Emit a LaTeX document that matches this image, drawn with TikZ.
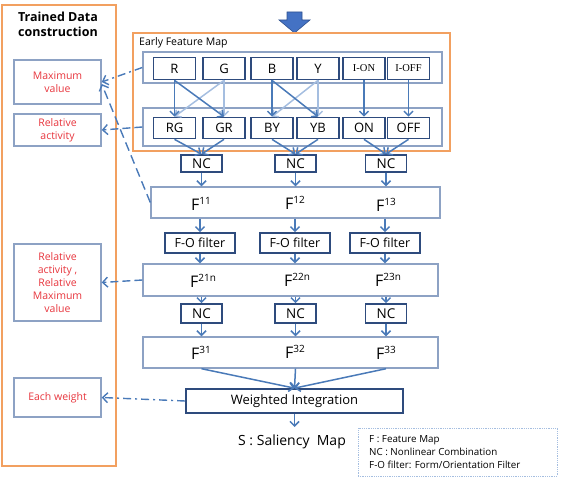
\documentclass[tikz,border=0pt]{standalone}
\usepackage{fontspec}
\setmainfont{Open Sans}
\newfontfamily\serifx{Liberation Serif}
\usetikzlibrary{arrows.meta,calc}
\definecolor{orng}{HTML}{F2A060}
\definecolor{contc}{HTML}{8DA2C4}
\definecolor{navy}{HTML}{2E4B7D}
\definecolor{arrc}{HTML}{4A7AB8}
\definecolor{lite}{HTML}{A5BEE0}
\definecolor{redt}{HTML}{E8363E}
\definecolor{blk}{HTML}{4472C4}
\definecolor{blkd}{HTML}{2F528F}
\newcommand{\fsz}[2]{\fontsize{#1}{#2}\selectfont}
\newcommand{\Fsup}[1]{{\fsz{16}{18}F}\raisebox{5.5pt}{\fsz{10}{12}#1}}
\begin{document}
\begin{tikzpicture}[x=1pt,y=-1pt,
  cont/.style={draw=contc, line width=1.4pt, fill=white, inner sep=0pt},
  ibox/.style={draw=navy, line width=1.7pt, fill=white, inner sep=0pt, font=\fsz{13}{15}},
  lbox/.style={draw=contc, line width=1.4pt, fill=white, inner sep=0pt, text=redt, align=center, font=\fsz{10.5}{13}, minimum width=87pt},
  arr/.style={draw=arrc, line width=1.5pt, -{Straight Barb[length=4.5pt,width=9pt]}},
  larr/.style={arr, draw=lite},
  dlink/.style={draw=arrc, line width=1.4pt, -{Straight Barb[length=5pt,width=10pt]}},
  flab/.style={inner sep=0pt, anchor=center}
]
\useasboundingbox (0,0) rectangle (572,478);
% left trained data panel
\node[draw=orng, line width=2pt, minimum width=114pt, minimum height=461pt, inner sep=0pt] (tdc) at (59,235.5) {};
\node[align=center, font=\bfseries\fsz{12.5}{15}, inner sep=0pt] (tdct) at (58,24.5) {Trained Data\\construction};
\node[lbox, minimum height=44pt] (maxv) at (57.5,82) {Maximum\\value};
\node[lbox, minimum height=32pt] (relact) at (57.5,130) {Relative\\activity};
\node[lbox, minimum height=77pt] (rarmv) at (57.5,282.5) {Relative\\activity ,\\Relative\\Maximum\\value};
\node[lbox, minimum height=39pt] (eachw) at (57.5,397.5) {Each weight};
% block arrow
\fill[blk, draw=blkd, line width=0.6pt] (287,12) -- (302,12) -- (302,20) -- (310,20) -- (294.5,33) -- (279,20) -- (287,20) -- cycle;
% early feature map
\node[draw=orng, line width=1.8pt, minimum width=317pt, minimum height=118pt, inner sep=0pt] (efm) at (291.5,92) {};
\node[anchor=west, inner sep=0pt, font=\fsz{10.5}{12}] (efmt) at (139,43) {Early Feature Map};
\node[cont, minimum width=299pt, minimum height=31pt] (row1) at (292.5,67.5) {};
\node[cont, minimum width=299pt, minimum height=38pt] (row2) at (292.5,127) {};
\foreach \n/\x/\t in {R/174.5/R, G/224/G, B/272/B, Y/318/Y}{
  \node[ibox, minimum width=42pt, minimum height=22pt] (\n) at (\x,68.5) {\t};
}
\node[ibox, minimum width=42pt, minimum height=22pt, font=\serifx\fsz{10.5}{12}] (ION) at (364,68.5) {I-ON};
\node[ibox, minimum width=42pt, minimum height=22pt, font=\serifx\fsz{10.5}{12}] (IOFF) at (408.5,68.5) {I-OFF};
\foreach \n/\x/\t in {RG/174.5/RG, GR/224/GR, BY/272/BY, YB/318/YB, ON/364/ON, OFF/408.5/OFF}{
  \node[ibox, minimum width=42pt, minimum height=21pt] (\n) at (\x,128) {\t};
}
% arrows between rows
\draw[larr] (G.south) -- (RG.north);
\draw[larr] (G.south) -- (GR.north);
\draw[larr] (Y.south) -- (BY.north);
\draw[larr] (Y.south) -- (YB.north);
\draw[arr] (R.south) -- (RG.north);
\draw[arr] (R.south) -- (GR.north);
\draw[arr] (B.south) -- (BY.north);
\draw[arr] (B.south) -- (YB.north);
\draw[arr] (ION.south) -- (ON.north);
\draw[arr] (IOFF.south) -- (OFF.north);
% NC row 1
\foreach \n/\x in {NCa/201.5, NCb/295.5, NCc/386}{
  \node[ibox, minimum width=41pt, minimum height=17pt, font=\fsz{13.5}{15}] (\n) at (\x,163.5) {NC};
}
\draw[arr] (RG.south) -- (NCa.north);
\draw[arr] (GR.south) -- (NCa.north);
\draw[arr] (BY.south) -- (NCb.north);
\draw[arr] (YB.south) -- (NCb.north);
\draw[arr] (ON.south) -- (NCc.north);
\draw[arr] (OFF.south) -- (NCc.north);
% F1
\node[cont, minimum width=289pt, minimum height=31pt] (F1) at (295.5,202.5) {};
\node[flab] (F11) at (201,204) {\Fsup{11}};
\node[flab] (F12) at (295,203) {\Fsup{12}};
\node[flab] (F13) at (386,205) {\Fsup{13}};
\foreach \n in {NCa,NCb,NCc}{ \draw[arr] (\n.south) -- (\n.south |- F1.north); }
% F-O filters
\foreach \n/\x in {FOa/200, FOb/295, FOc/385}{
  \node[ibox, minimum width=70pt, minimum height=20pt, font=\fsz{12.5}{14}] (\n) at (\x,243) {F-O filter};
}
\foreach \n in {FOa,FOb,FOc}{ \draw[arr] (\n.north |- F1.south) -- (\n.north); }
% F2
\node[cont, minimum width=295pt, minimum height=32pt] (F2) at (290.5,280) {};
\node[flab] (F21) at (203,281) {\Fsup{21n}};
\node[flab] (F22) at (297,280) {\Fsup{22n}};
\node[flab] (F23) at (388,280) {\Fsup{23n}};
\foreach \n in {FOa,FOb,FOc}{ \draw[arr] (\n.south) -- (\n.south |- F2.north); }
% NC row 2
\foreach \n/\x in {NCd/201.5, NCe/295.5, NCf/386}{
  \node[ibox, minimum width=41pt, minimum height=19pt, font=\fsz{13.5}{15}] (\n) at (\x,313.5) {NC};
}
\foreach \n in {NCd,NCe,NCf}{ \draw[arr] (\n.north |- F2.south) -- (\n.north); }
% F3
\node[cont, minimum width=295pt, minimum height=31pt] (F3) at (290.5,352.5) {};
\node[flab] (F31) at (201,353) {\Fsup{31}};
\node[flab] (F32) at (295,352) {\Fsup{32}};
\node[flab] (F33) at (386,353) {\Fsup{33}};
\foreach \n in {NCd,NCe,NCf}{ \draw[arr] (\n.south) -- (\n.south |- F3.north); }
% weighted integration
\node[ibox, minimum width=217pt, minimum height=24pt, font=\fsz{13}{15}] (WI) at (294.5,401) {Weighted Integration};
\coordinate (fa) at (F3.south -| NCd);
\coordinate (fb) at (F3.south -| NCe);
\coordinate (fc) at (F3.south -| NCf);
\draw[arr] (fa) -- (WI.north);
\draw[arr] (fb) -- (WI.north);
\draw[arr] (fc) -- (WI.north);
\coordinate (send) at (294.5,427);
\draw[arr] (WI.south) -- (send);
\node[inner sep=0pt, font=\fsz{14}{16}] (S) at (292,442) {S : Saliency\ \ Map};
% legend
\node[draw=lite, densely dotted, line width=0.8pt, minimum width=199pt, minimum height=48pt, inner sep=0pt] (leg) at (457.5,452) {};
\node[anchor=west, align=left, inner sep=0pt, font=\fsz{9.8}{13}] (legt) at (369,452) {F : Feature Map\\NC : Nonlinear Combination\\F-O filter: Form/Orientation Filter};
% dashed links to left panel
\draw[dlink, dash pattern=on 8pt off 4pt on 2pt off 4pt] (row1.west) -- (maxv.east);
\draw[dlink, dash pattern=on 8pt off 4pt] (row2.west) -- (relact.east);
\draw[dlink, dash pattern=on 9pt off 5pt] (F1.west) -- ($(maxv.east)+(0,2)$);
\draw[dlink, dash pattern=on 8pt off 4pt] (F2.west) -- (rarmv.east);
\draw[dlink, dash pattern=on 8pt off 4pt on 2pt off 4pt] (WI.west) -- (eachw.east);
\end{tikzpicture}
\end{document}
